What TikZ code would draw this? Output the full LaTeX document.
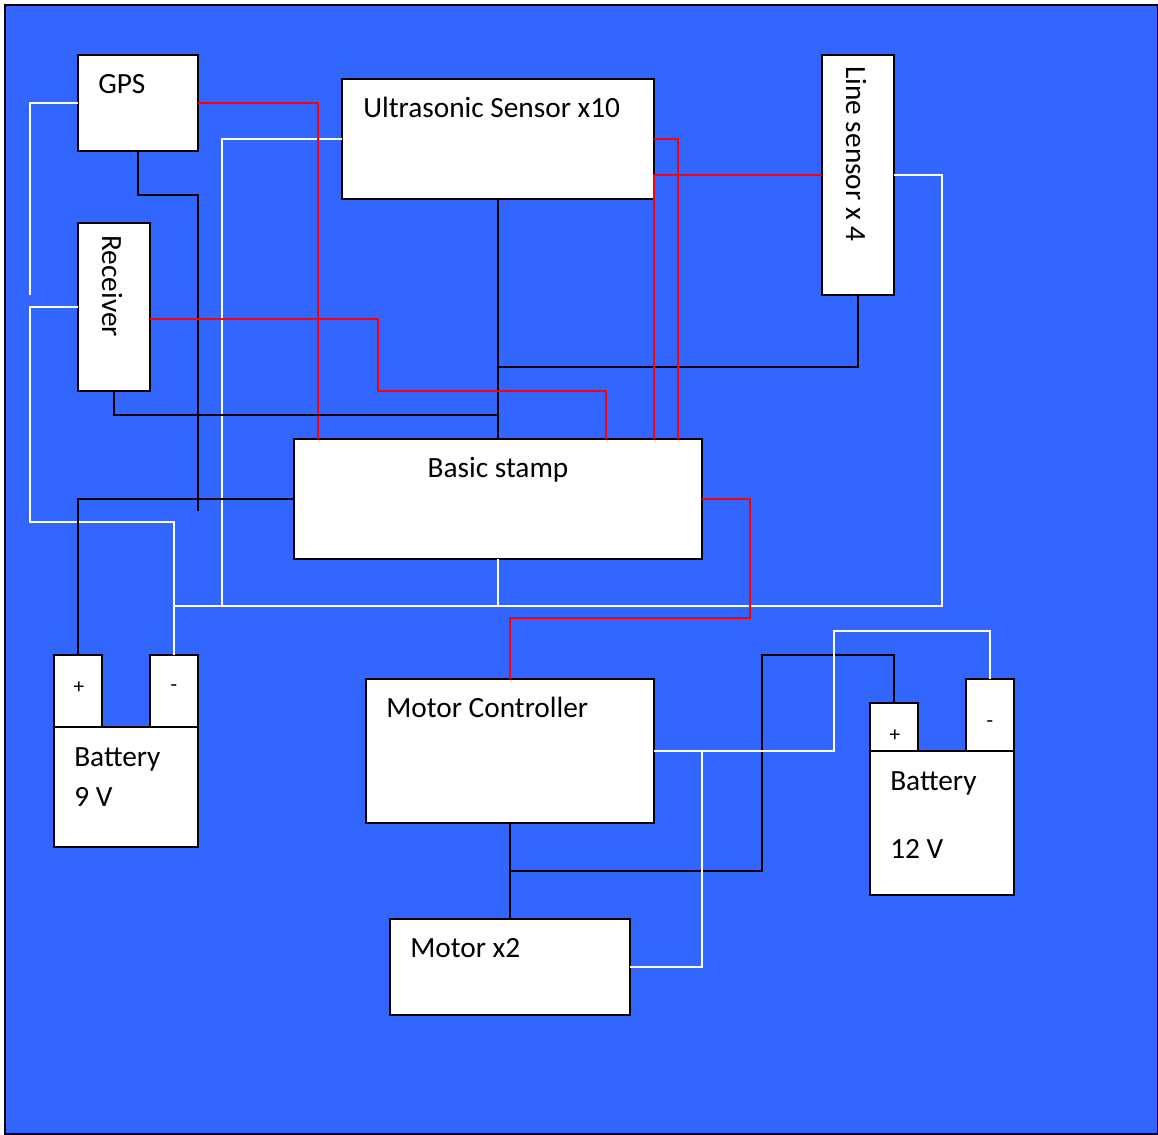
\documentclass[tikz,border=0pt]{standalone}
\usepackage{fontspec}
\setmainfont{Carlito}
\definecolor{panelblue}{HTML}{3366FF}
\definecolor{wirered}{HTML}{FF0000}

\begin{document}
\begin{tikzpicture}[
  x=0.75pt, y=-0.75pt,
  unit/.style 2 args={draw=black, line width=1.5pt, fill=white, inner sep=0pt, outer sep=0pt, minimum width=#1*0.75pt, minimum height=#2*0.75pt},
  caption/.style={anchor=base west, inner sep=0pt, font=\fontsize{22}{26}\selectfont},
  sign/.style={inner sep=0pt, font=\fontsize{16}{18}\selectfont},
  whitewire/.style={draw=white, line width=1.5pt},
  blackwire/.style={draw=black, line width=1.5pt},
  redwire/.style={draw=wirered, line width=1.5pt}
]
\useasboundingbox (0,0) rectangle (1158,1135);
\draw[fill=panelblue, line width=1.5pt] (5,5) rectangle (1158,1134);

% boxes
\node[unit={120}{96}] (gps) at (138,103) {};
\node[unit={312}{120}] (ultra) at (498,139) {};
\node[unit={72}{240}] (linesens) at (858,175) {};
\node[unit={72}{168}] (rx) at (114,307) {};
\node[unit={408}{120}] (stamp) at (498,499) {};
\node[unit={48}{72}] (plusnine) at (78,691) {};
\node[unit={48}{72}] (minusnine) at (174,691) {};
\node[unit={144}{120}] (batnine) at (126,787) {};
\node[unit={288}{144}] (ctrl) at (510,751) {};
\node[unit={240}{96}] (motor) at (510,967) {};
\node[unit={48}{48}] (plustwelve) at (894,727) {};
\node[unit={48}{72}] (minustwelve) at (990,715) {};
\node[unit={144}{144}] (battwelve) at (942,823) {};

% texts
\node[caption] (gpstext) at (98,93) {GPS};
\node[caption] (ultratext) at (363,117) {Ultrasonic Sensor x10};
\node[caption, rotate=-90] (linetext) at (846,66) {Line sensor x 4};
\node[caption, rotate=-90] (rxtext) at (102,235) {Receiver};
\node[caption, anchor=base] (stamptext) at (498,477) {Basic stamp};
\node[caption] (batninetext) at (74,766) {Battery};
\node[caption] (ninetext) at (74,806) {9 V};
\node[caption] (ctrltext) at (386,717) {Motor Controller};
\node[caption] (motortext) at (410,957) {Motor x2};
\node[caption] (battwelvetext) at (890,790) {Battery};
\node[caption] (twelvetext) at (890,858) {12 V};
\node[sign] (plusninetext) at (79,688) {+};
\node[sign] (minusninetext) at (174,688) {-};
\node[sign] (plustwelvetext) at (895,736) {+};
\node[sign] (minustwelvetext) at (990,724) {-};

% free ends and joints
\coordinate (whiteend) at (30,295);
\coordinate (blackend) at (198,511);
\coordinate (rxout) at (150,319);
\coordinate (gnd) at (222,606);
\coordinate (gndleft) at (174,606);
\coordinate (gndright) at (942,606);
\coordinate (stampgnd) at (498,606);
\coordinate (pwrjoin) at (498,367);
\coordinate (rxjoin) at (498,415);
\coordinate (gpspin) at (318,439);
\coordinate (rxpin) at (606,439);
\coordinate (linepin) at (654,439);
\coordinate (ultrapin) at (678,439);
\coordinate (ultraout) at (654,139);
\coordinate (motorjoin) at (510,871);
\coordinate (ctrljoin) at (702,751);

\draw[whitewire] (gps.west) -| (whiteend);
\draw[whitewire] (rx.west) -- (30,307) -- (30,522) -- (174,522) -- (minusnine.north);
\draw[whitewire] (ultra.west) -| (gnd);
\draw[whitewire] (linesens.east) -| (gndright) -- (gndleft);
\draw[whitewire] (stamp.south) -- (stampgnd);

\draw[blackwire] (gps.south) |- (198,195) -- (blackend);
\draw[blackwire] (ultra.south) -- (stamp.north);
\draw[blackwire] (linesens.south) |- (pwrjoin);
\draw[blackwire] (stamp.west) -| (plusnine.north);
\draw[blackwire] (ctrl.south) -- (motor.north);
\draw[blackwire] (motorjoin) -- (762,871) -- (762,655) -| (plustwelve.north);

\draw[whitewire] (ctrl.east) -- (834,751) -- (834,631) -| (minustwelve.north);
\draw[whitewire] (motor.east) -| (ctrljoin);

\draw[redwire] (gps.east) -| (gpspin);
\draw[redwire] (rxout) -- (378,319) -- (378,391) -| (rxpin);
\draw[redwire] (ultraout) -| (ultrapin);
\draw[redwire] (linesens.west) -| (linepin);
\draw[redwire] (stamp.east) -- (750,499) -- (750,618) -| (ctrl.north);

\draw[blackwire] (rx.south) |- (rxjoin);
\end{tikzpicture}
\end{document}
